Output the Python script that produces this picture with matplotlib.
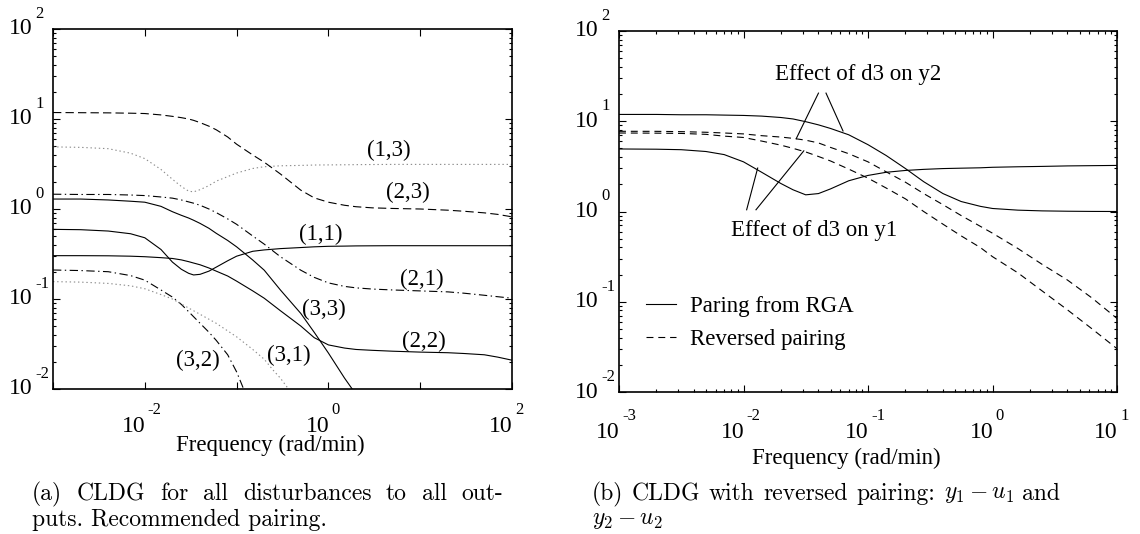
import matplotlib
matplotlib.use('Agg')
import matplotlib.pyplot as plt
import matplotlib.transforms as mtrans
from matplotlib.ticker import LogLocator, NullLocator

plt.rcParams['font.family'] = 'Liberation Serif'
plt.rcParams['mathtext.fontset'] = 'stix'
plt.rcParams['lines.scale_dashes'] = False

# ---- (a) CLDG, recommended pairing ----
w_a = [0.001, 0.002, 0.004, 0.007, 0.01, 0.015, 0.02, 0.025, 0.03, 0.034, 0.04,
       0.05, 0.06, 0.08, 0.1, 0.15, 0.2, 0.3, 0.5, 0.7, 1, 1.5, 2, 3, 5, 10,
       20, 30, 50, 70, 100]
g13 = [4.90, 4.84, 4.68, 4.17, 3.63, 2.75, 2.14, 1.78, 1.58, 1.55, 1.64, 1.82,
       2.04, 2.29, 2.51, 2.82, 2.95, 3.02, 3.05, 3.08, 3.09, 3.10, 3.11, 3.12,
       3.13, 3.13, 3.13, 3.13, 3.13, 3.13, 3.13]
g23 = [11.8, 11.75, 11.7, 11.6, 11.5, 11.1, 10.7, 10.35, 10.0, 9.66, 9.12,
       8.32, 7.59, 6.31, 5.25, 3.98, 3.31, 2.45, 1.62, 1.33, 1.19, 1.10, 1.06,
       1.03, 1.014, 1.0, 0.97, 0.944, 0.906, 0.871, 0.818]
g21 = [1.46, 1.45, 1.45, 1.43, 1.41, 1.36, 1.32, 1.26, 1.20, 1.16, 1.10, 1.00,
       0.912, 0.776, 0.676, 0.501, 0.407, 0.295, 0.209, 0.174, 0.151, 0.138,
       0.133, 0.129, 0.126, 0.123, 0.120, 0.116, 0.110, 0.106, 0.102]
g11 = [0.594, 0.589, 0.569, 0.531, 0.479, 0.355, 0.257, 0.214, 0.193, 0.185,
       0.188, 0.204, 0.226, 0.266, 0.299, 0.339, 0.351, 0.363, 0.373, 0.380,
       0.385, 0.387, 0.389, 0.390, 0.391, 0.391, 0.391, 0.391, 0.391, 0.391,
       0.391]
g22 = [0.303, 0.303, 0.302, 0.299, 0.295, 0.288, 0.282, 0.272, 0.260, 0.251,
       0.240, 0.221, 0.204, 0.180, 0.158, 0.123, 0.102, 0.0741, 0.0501, 0.0372,
       0.0309, 0.0285, 0.0275, 0.0269, 0.0263, 0.0257, 0.0253, 0.0248, 0.0240,
       0.0226, 0.0209]
g33 = [1.29, 1.29, 1.26, 1.22, 1.19, 1.07, 0.933, 0.851, 0.794, 0.750, 0.692,
       0.610, 0.537, 0.447, 0.380, 0.271, 0.209, 0.126, 0.0692, 0.0427, 0.0251,
       0.0132, 0.0087]

w32 = [0.001, 0.002, 0.004, 0.007, 0.01, 0.015, 0.02, 0.025, 0.03, 0.04, 0.05,
       0.06, 0.08, 0.1, 0.125]
g32 = [0.210, 0.207, 0.201, 0.182, 0.162, 0.126, 0.105, 0.0871, 0.0724, 0.0537,
       0.0427, 0.0347, 0.0240, 0.0155, 0.0089]
w31 = [0.001, 0.002, 0.004, 0.007, 0.01, 0.015, 0.02, 0.03, 0.04, 0.06, 0.1,
       0.15, 0.2, 0.25, 0.3, 0.4]
g31 = [0.156, 0.154, 0.149, 0.140, 0.130, 0.112, 0.100, 0.0794, 0.0676, 0.0537,
       0.0380, 0.0275, 0.0214, 0.0162, 0.0132, 0.0089]

pair_names = ['(1,3)', '(2,3)', '(1,1)', '(2,1)', '(3,3)', '(2,2)', '(3,1)', '(3,2)']
pair_x = [4.5, 7.4, 0.82, 10.4, 0.895, 11.0, 0.375, 0.0383]
pair_y = [4.5, 1.52, 0.527, 0.166, 0.0769, 0.0336, 0.0233, 0.021]

# ---- (b) CLDG, reversed pairing ----
w_b = [0.001, 0.002, 0.00316, 0.005, 0.007, 0.01, 0.014, 0.02, 0.025, 0.0316,
       0.04, 0.05, 0.07, 0.1, 0.14, 0.2, 0.28, 0.4, 0.56, 0.8, 1, 1.6, 2.5, 4,
       6.3, 10]
rga_y2 = [11.9, 11.9, 11.8, 11.8, 11.7, 11.6, 11.4, 11.0, 10.6, 9.89, 9.12,
          8.32, 7.08, 5.50, 4.17, 2.99, 2.14, 1.58, 1.29, 1.14, 1.08, 1.035,
          1.016, 1.007, 1.002, 1.0]
rga_y1 = [4.93, 4.90, 4.84, 4.62, 4.27, 3.55, 2.72, 2.04, 1.74, 1.53, 1.58,
          1.78, 2.19, 2.51, 2.72, 2.85, 2.93, 2.99, 3.02, 3.05, 3.09, 3.13,
          3.16, 3.20, 3.22, 3.24]
rev_y2 = [7.74, 7.73, 7.67, 7.55, 7.41, 7.24, 6.92, 6.68, 6.46, 6.17, 5.75,
          5.13, 4.37, 3.55, 2.75, 2.11, 1.58, 1.19, 0.902, 0.684, 0.575, 0.389,
          0.260, 0.174, 0.110, 0.0653]
rev_y1 = [7.41, 7.38, 7.33, 7.16, 6.84, 6.61, 6.03, 5.43, 5.01, 4.57, 4.07,
          3.63, 2.95, 2.34, 1.82, 1.38, 1.0, 0.724, 0.537, 0.398, 0.316, 0.209,
          0.132, 0.0813, 0.0501, 0.0302]

note_y2 = (0.083, 33.0)
note_y2_lines = [((0.040, 20.5), (0.0265, 6.4)), ((0.046, 20.5), (0.063, 7.8))]
note_y1 = (0.037, 0.615)
note_y1_lines = [((0.0106, 1.045), (0.0130, 3.03)), ((0.0126, 1.045), (0.0305, 4.70))]

TXT = 16.5
W, H = 1140, 534


def decade_labels(ax, xexp, yexp, xdrop):
    fig = ax.figure
    for e in xexp:
        t1 = mtrans.offset_copy(ax.get_xaxis_transform(), fig=fig, x=1, y=-xdrop, units='dots')
        t2 = mtrans.offset_copy(ax.get_xaxis_transform(), fig=fig, x=3, y=-xdrop + 16, units='dots')
        ax.text(10.0 ** e, 0, '10', transform=t1, ha='right', va='center', fontsize=17)
        ax.text(10.0 ** e, 0, str(e), transform=t2, ha='left', va='center', fontsize=12)
    for e in yexp:
        t1 = mtrans.offset_copy(ax.get_yaxis_transform(), fig=fig, x=-20, y=0, units='dots')
        t2 = mtrans.offset_copy(ax.get_yaxis_transform(), fig=fig, x=-18, y=15, units='dots')
        ax.text(0, 10.0 ** e, '10', transform=t1, ha='right', va='center', fontsize=17)
        ax.text(0, 10.0 ** e, str(e), transform=t2, ha='left', va='center', fontsize=12)


def setup(ax, xmin, xmax, xminor):
    ax.set_xscale('log')
    ax.set_yscale('log')
    ax.set_xlim(xmin, xmax)
    ax.set_ylim(1e-2, 1e2)
    ax.xaxis.set_major_locator(LogLocator(base=10, numticks=12))
    if xminor:
        ax.xaxis.set_minor_locator(LogLocator(base=10, subs=range(2, 10), numticks=12))
    else:
        ax.xaxis.set_minor_locator(NullLocator())
    ax.yaxis.set_major_locator(LogLocator(base=10, numticks=12))
    ax.yaxis.set_minor_locator(LogLocator(base=10, subs=range(2, 10), numticks=12))
    ax.tick_params(which='both', direction='in', top=True, right=True,
                   labelbottom=False, labelleft=False, width=0.8)
    ax.tick_params(which='major', length=5)
    ax.tick_params(which='minor', length=2.5)
    for s in ax.spines.values():
        s.set_linewidth(1.2)


def justified(fig, x0, x1, y, words, **kw):
    # spread the words over [x0, x1] pixels, never tighter than a normal space
    r = fig.canvas.get_renderer()
    texts = [fig.text(0, 1 - y / H, w, **kw) for w in words]
    widths = [t.get_window_extent(r).width for t in texts]
    gap = (x1 - x0 - sum(widths)) / (len(words) - 1)
    gap = max(gap, 0.36 * kw['fontsize'] * 100 / 72)
    x = x0
    for t, wd in zip(texts, widths):
        t.set_x(x / W)
        x += wd + gap


fig = plt.figure(figsize=(11.4, 5.34), dpi=100)
ax1 = fig.add_axes([53 / W, 1 - 389 / H, 459 / W, 360 / H])
ax2 = fig.add_axes([619 / W, 1 - 392 / H, 498 / W, 361 / H])

# left panel
setup(ax1, 1e-3, 1e2, False)
lw = 0.8
ax1.plot(w_a, g13, color='0.55', lw=lw, dashes=(1, 2))
ax1.plot(w_a, g23, color='k', lw=lw, dashes=(6, 3))
ax1.plot(w_a, g21, color='k', lw=lw, dashes=(6, 2.5, 1, 2.5))
ax1.plot(w_a, g11, color='k', lw=lw)
ax1.plot(w_a, g22, color='k', lw=lw)
ax1.plot(w_a[:len(g33)], g33, color='k', lw=lw)
ax1.plot(w32, g32, color='k', lw=lw, dashes=(6, 2.5, 1, 2.5))
ax1.plot(w31, g31, color='0.55', lw=lw, dashes=(1, 2))
for name, x, y in zip(pair_names, pair_x, pair_y):
    ax1.text(x, y, name, ha='center', va='center', fontsize=TXT)
decade_labels(ax1, [-2, 0, 2], [-2, -1, 0, 1, 2], 37)
ax1.set_xlabel('Frequency (rad/min)', fontsize=TXT, va='center')
ax1.xaxis.set_label_coords(0.473, -0.158)

# right panel
setup(ax2, 1e-3, 1e1, True)
ax2.plot(w_b, rga_y2, color='k', lw=lw, label='Paring from RGA')
ax2.plot(w_b, rga_y1, color='k', lw=lw)
ax2.plot(w_b, rev_y2, color='k', lw=lw, dashes=(5, 3.5), label='Reversed pairing')
ax2.plot(w_b, rev_y1, color='k', lw=lw, dashes=(5, 3.5))
ax2.text(*note_y2, 'Effect of d3 on y2', ha='center', va='center', fontsize=TXT)
ax2.text(*note_y1, 'Effect of d3 on y1', ha='center', va='center', fontsize=TXT)
for (p, q) in note_y2_lines + note_y1_lines:
    ax2.plot([p[0], q[0]], [p[1], q[1]], color='k', lw=lw)
ax2.legend(loc='upper left', bbox_to_anchor=(0.055, 0.265), frameon=False,
           fontsize=TXT, handlelength=1.3, handletextpad=0.6, labelspacing=0.5,
           borderpad=0, borderaxespad=0)
decade_labels(ax2, [-3, -2, -1, 0, 1], [-2, -1, 0, 1, 2], 40)
ax2.set_xlabel('Frequency (rad/min)', fontsize=TXT, va='center')
ax2.xaxis.set_label_coords(0.456, -0.185)

# captions
cap = dict(fontsize=17, family='cmr10', math_fontfamily='cm', ha='left', va='center')
justified(fig, 32, 503, 494,
          ['(a)', 'CLDG', 'for', 'all', 'disturbances', 'to', 'all', 'out-'], **cap)
fig.text(32 / W, 1 - 520 / H, 'puts. Recommended pairing.', **cap)
justified(fig, 592, 1040, 494,
          ['(b)', 'CLDG', 'with', 'reversed', 'pairing:', r'$y_1 - u_1$', 'and'], **cap)
fig.text(592 / W, 1 - 520 / H, r'$y_2 - u_2$', **cap)

fig.savefig('out.png', dpi=100)
